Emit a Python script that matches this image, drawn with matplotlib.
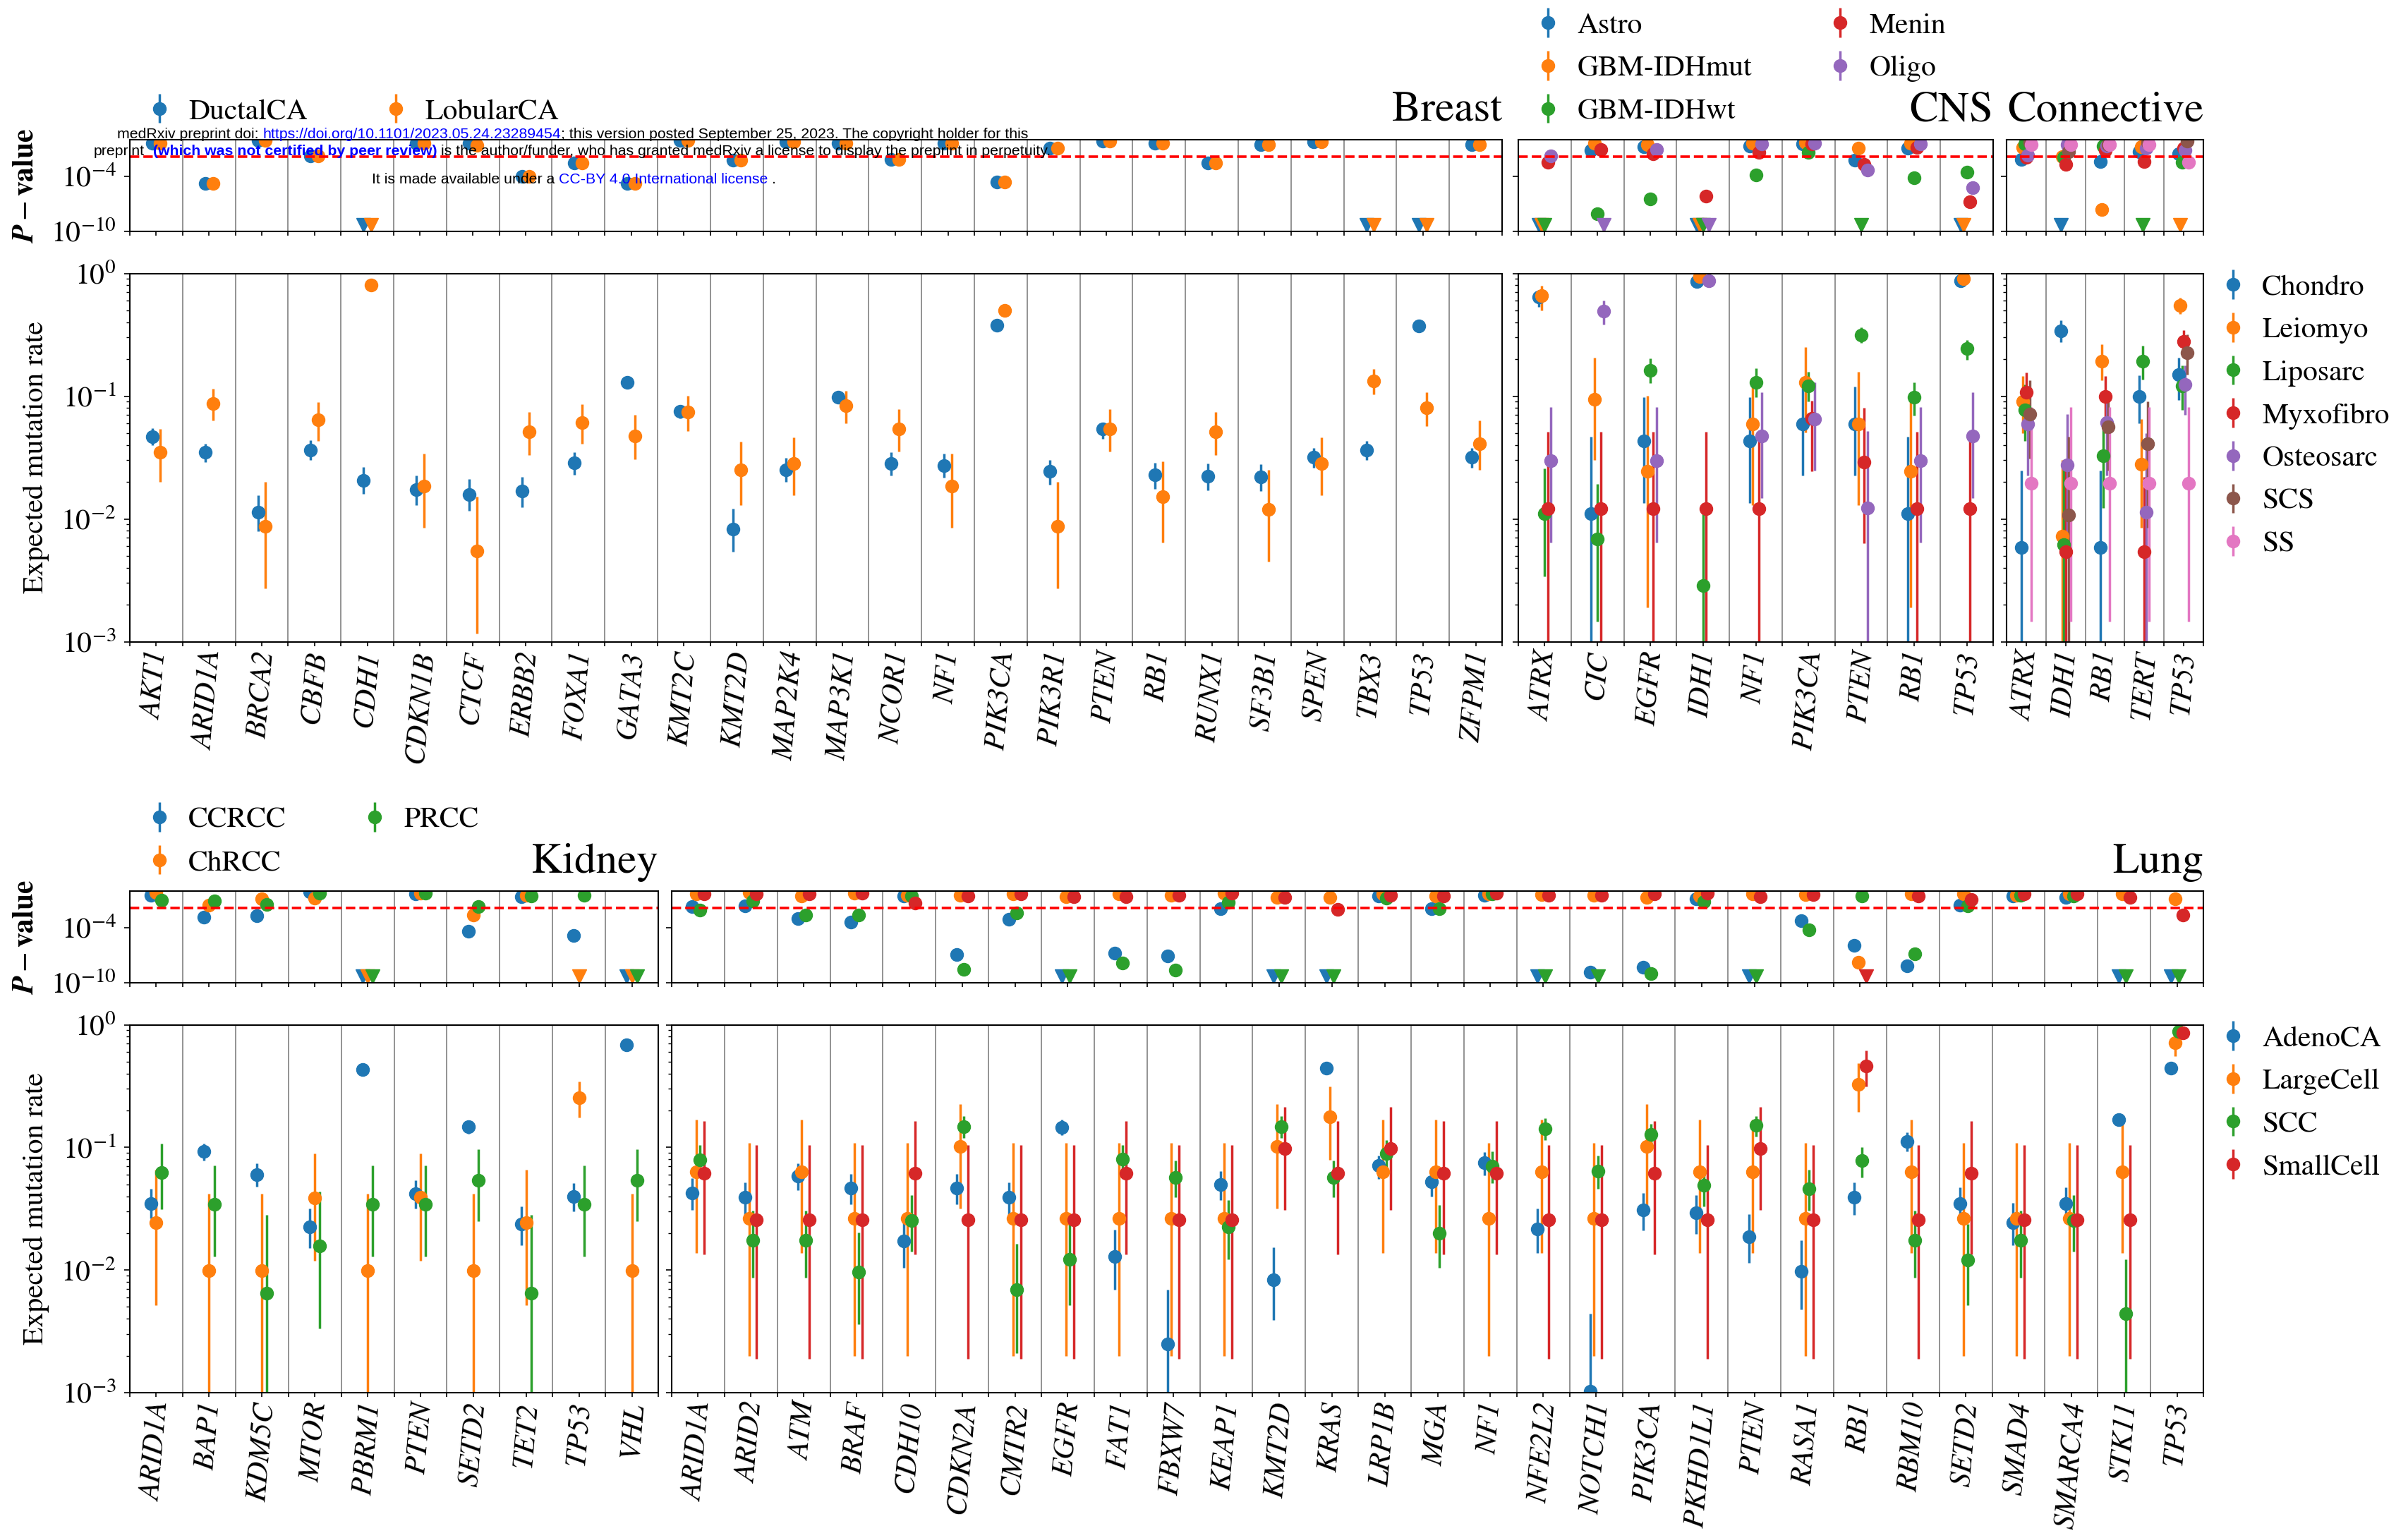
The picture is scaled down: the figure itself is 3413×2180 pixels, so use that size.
import numpy as np
import matplotlib.pyplot as plt
from matplotlib.text import Annotation
from matplotlib.ticker import NullLocator
from matplotlib.mathtext import MathTextParser

plt.rcParams['font.family'] = 'STIXGeneral'
plt.rcParams['mathtext.fontset'] = 'stix'

LOW = -12            # log10 p below the plotted range -> drawn as a triangle
P_THRESHOLD = 0.0135
P_FLOOR = 10 ** -9.3

# ---------------- Breast ----------------
breast_genes = ['AKT1', 'ARID1A', 'BRCA2', 'CBFB', 'CDH1', 'CDKN1B', 'CTCF', 'ERBB2', 'FOXA1',
                'GATA3', 'KMT2C', 'KMT2D', 'MAP2K4', 'MAP3K1', 'NCOR1', 'NF1', 'PIK3CA', 'PIK3R1',
                'PTEN', 'RB1', 'RUNX1', 'SF3B1', 'SPEN', 'TBX3', 'TP53', 'ZFPM1']
breast_types = ['DuctalCA', 'LobularCA']
breast_rate = [
    [0.047, 0.035, 0.0113, 0.0365, 0.0207, 0.0173, 0.0158, 0.0168, 0.0286, 0.13, 0.075, 0.0083, 0.0252,
     0.098, 0.0282, 0.0272, 0.378, 0.0244, 0.0537, 0.0228, 0.0222, 0.0219, 0.0317, 0.0362, 0.375, 0.0317],
    [0.035, 0.087, 0.0087, 0.064, 0.80, 0.0185, 0.0055, 0.051, 0.061, 0.0475, 0.074, 0.025, 0.0282,
     0.084, 0.054, 0.0185, 0.50, 0.0087, 0.054, 0.0152, 0.051, 0.012, 0.0282, 0.133, 0.080, 0.041]]
breast_lo = [
    [0.040, 0.029, 0.0079, 0.030, 0.016, 0.0129, 0.0117, 0.0125, 0.023, 0.125, 0.066, 0.0054, 0.020,
     0.094, 0.0226, 0.0216, 0.37, 0.019, 0.045, 0.0176, 0.017, 0.0168, 0.026, 0.030, 0.368, 0.026],
    [0.020, 0.063, 0.0027, 0.043, 0.78, 0.0085, 0.00117, 0.033, 0.041, 0.0305, 0.052, 0.013, 0.0155,
     0.060, 0.0356, 0.0085, 0.49, 0.0027, 0.0356, 0.0064, 0.033, 0.0045, 0.0155, 0.103, 0.057, 0.025]]
breast_hi = [
    [0.055, 0.041, 0.0156, 0.044, 0.0266, 0.0225, 0.021, 0.0219, 0.035, 0.136, 0.082, 0.0121, 0.0315,
     0.103, 0.0347, 0.0338, 0.386, 0.0302, 0.061, 0.0286, 0.0282, 0.0278, 0.038, 0.0433, 0.382, 0.038],
    [0.054, 0.115, 0.020, 0.089, 0.82, 0.034, 0.0152, 0.074, 0.086, 0.070, 0.101, 0.0425, 0.046,
     0.111, 0.078, 0.034, 0.51, 0.020, 0.078, 0.0294, 0.074, 0.025, 0.046, 0.166, 0.108, 0.063]]
breast_logp = [
    [-0.4, -4.8, -0.1, -1.75, LOW, -0.4, -0.4, -3.97, -2.56, -4.74, -0.1, -2.2, -0.26, -0.38, -2.13,
     -0.38, -4.6, -0.95, -0.13, -0.38, -2.56, -0.5, -0.26, LOW, LOW, -0.5],
    [-0.4, -4.8, -0.1, -1.75, LOW, -0.4, -0.64, -3.97, -2.56, -4.74, -0.1, -2.2, -0.26, -0.38, -2.13,
     -0.38, -4.6, -0.95, -0.13, -0.38, -2.56, -0.5, -0.26, LOW, LOW, -0.5]]

# ---------------- CNS ----------------
cns_genes = ['ATRX', 'CIC', 'EGFR', 'IDH1', 'NF1', 'PIK3CA', 'PTEN', 'RB1', 'TP53']
cns_types = ['Astro', 'GBM-IDHmut', 'GBM-IDHwt', 'Menin', 'Oligo']
cns_rate = [
    [0.64, 0.0111, 0.043, 0.86, 0.043, 0.059, 0.059, 0.0111, 0.87],
    [0.66, 0.094, 0.0244, 0.94, 0.059, 0.13, 0.059, 0.0244, 0.90],
    [0.011, 0.0069, 0.163, 0.00286, 0.13, 0.121, 0.315, 0.0975, 0.243],
    [0.0121, 0.0121, 0.0121, 0.0121, 0.0121, 0.066, 0.029, 0.0121, 0.0121],
    [0.0298, 0.49, 0.0298, 0.87, 0.0475, 0.065, 0.0123, 0.0298, 0.0475]]
cns_lo = [
    [0.53, 0.0001, 0.0134, 0.84, 0.0134, 0.0226, 0.0226, 0.0001, 0.85],
    [0.50, 0.030, 0.0019, 0.92, 0.013, 0.0505, 0.0129, 0.0019, 0.88],
    [0.0034, 0.00146, 0.128, 0.0001, 0.098, 0.091, 0.27, 0.0696, 0.198],
    [0.0001, 0.0001, 0.0001, 0.0001, 0.0001, 0.0244, 0.0063, 0.0001, 0.0001],
    [0.0064, 0.382, 0.0064, 0.85, 0.0148, 0.0249, 0.0001, 0.0064, 0.0148]]
cns_hi = [
    [0.73, 0.047, 0.0975, 0.88, 0.0975, 0.119, 0.119, 0.047, 0.89],
    [0.79, 0.206, 0.101, 0.96, 0.119, 0.252, 0.158, 0.101, 0.92],
    [0.0256, 0.0193, 0.204, 0.0115, 0.168, 0.158, 0.363, 0.13, 0.287],
    [0.051, 0.051, 0.051, 0.051, 0.051, 0.092, 0.080, 0.051, 0.051],
    [0.0817, 0.597, 0.0817, 0.89, 0.108, 0.13, 0.052, 0.0817, 0.108]]
cns_logp = [
    [LOW, -1.18, -0.79, LOW, -0.72, -0.46, -2.2, -0.92, LOW],
    [LOW, -0.41, -0.54, LOW, -0.36, -0.28, -0.92, -0.36, LOW],
    [LOW, -8.05, -6.44, LOW, -3.87, -1.41, LOW, -4.13, -3.54],
    [-2.46, -1.05, -1.56, -6.13, -1.41, -0.46, -2.72, -0.87, -6.74],
    [-1.74, LOW, -1.05, LOW, -0.46, -0.41, -3.28, -0.46, -5.2]]

# ---------------- Connective ----------------
conn_genes = ['ATRX', 'IDH1', 'RB1', 'TERT', 'TP53']
conn_types = ['Chondro', 'Leiomyo', 'Liposarc', 'Myxofibro', 'Osteosarc', 'SCS', 'SS']
conn_rate = [
    [0.00588, 0.339, 0.00588, 0.099, 0.15],
    [0.091, 0.0072, 0.193, 0.0279, 0.545],
    [0.0776, 0.0062, 0.0328, 0.193, 0.121],
    [0.107, 0.0054, 0.10, 0.0054, 0.279],
    [0.059, 0.0275, 0.0606, 0.0113, 0.124],
    [0.071, 0.0107, 0.056, 0.041, 0.225],
    [0.0196, 0.0196, 0.0196, 0.0196, 0.0196]]
conn_lo = [
    [0.0001, 0.277, 0.0001, 0.0597, 0.0925],
    [0.050, 0.0001, 0.134, 0.0085, 0.468],
    [0.043, 0.0001, 0.0122, 0.137, 0.077],
    [0.071, 0.0001, 0.050, 0.0001, 0.206],
    [0.0226, 0.0054, 0.0226, 0.0001, 0.070],
    [0.031, 0.0001, 0.0246, 0.0085, 0.150],
    [0.00146, 0.00146, 0.00146, 0.00146, 0.00146]]
conn_hi = [
    [0.0249, 0.415, 0.0249, 0.148, 0.206],
    [0.145, 0.030, 0.263, 0.065, 0.63],
    [0.124, 0.027, 0.066, 0.256, 0.177],
    [0.156, 0.027, 0.146, 0.022, 0.345],
    [0.103, 0.071, 0.103, 0.050, 0.177],
    [0.134, 0.047, 0.105, 0.091, 0.32],
    [0.081, 0.081, 0.081, 0.081, 0.081]]
conn_logp = [
    [-2.15, LOW, -2.41, -1.31, -1.56],
    [-0.87, -1.82, -7.59, -0.79, LOW],
    [-0.46, -1.95, -0.67, LOW, -2.46],
    [-1.95, -2.72, -1.18, -2.41, -0.92],
    [-1.7, -0.54, -0.7, -0.9, -1.18],
    [-0.3, -1.31, -0.5, -0.3, -0.15],
    [-0.51, -0.54, -0.54, -0.54, -2.46]]

# ---------------- Kidney ----------------
kidney_genes = ['ARID1A', 'BAP1', 'KDM5C', 'MTOR', 'PBRM1', 'PTEN', 'SETD2', 'TET2', 'TP53', 'VHL']
kidney_types = ['CCRCC', 'ChRCC', 'PRCC']
kidney_rate = [
    [0.0349, 0.0926, 0.06, 0.0226, 0.432, 0.0418, 0.148, 0.0236, 0.0397, 0.685],
    [0.0242, 0.0099, 0.0099, 0.0385, 0.0099, 0.039, 0.0099, 0.0242, 0.253, 0.0099],
    [0.0622, 0.0343, 0.0065, 0.0157, 0.0343, 0.0343, 0.0537, 0.0065, 0.0343, 0.0537]]
kidney_lo = [
    [0.0263, 0.078, 0.048, 0.0152, 0.425, 0.0316, 0.13, 0.0159, 0.030, 0.68],
    [0.0052, 0.0001, 0.0001, 0.0119, 0.0001, 0.0119, 0.0001, 0.0052, 0.176, 0.0001],
    [0.0315, 0.0129, 0.0001, 0.00336, 0.0129, 0.0129, 0.025, 0.0001, 0.0129, 0.025]]
kidney_hi = [
    [0.0457, 0.107, 0.0743, 0.0316, 0.44, 0.054, 0.163, 0.0331, 0.051, 0.69],
    [0.066, 0.042, 0.042, 0.0886, 0.042, 0.0886, 0.042, 0.066, 0.345, 0.042],
    [0.107, 0.071, 0.028, 0.0437, 0.071, 0.071, 0.0963, 0.028, 0.071, 0.0963]]
kidney_logp = [
    [-0.44, -2.82, -2.67, -0.1, LOW, -0.31, -4.36, -0.62, -4.85, LOW],
    [-0.18, -1.54, -0.82, -0.77, LOW, -0.23, -2.62, -0.44, LOW, LOW],
    [-1.03, -1.08, -1.46, -0.26, LOW, -0.23, -1.72, -0.56, -0.44, LOW]]

# ---------------- Lung ----------------
lung_genes = ['ARID1A', 'ARID2', 'ATM', 'BRAF', 'CDH10', 'CDKN2A', 'CMTR2', 'EGFR', 'FAT1', 'FBXW7',
              'KEAP1', 'KMT2D', 'KRAS', 'LRP1B', 'MGA', 'NF1', 'NFE2L2', 'NOTCH1', 'PIK3CA', 'PKHD1L1',
              'PTEN', 'RASA1', 'RB1', 'RBM10', 'SETD2', 'SMAD4', 'SMARCA4', 'STK11', 'TP53']
lung_types = ['AdenoCA', 'LargeCell', 'SCC', 'SmallCell']
lung_rate = [
    [0.0423, 0.039, 0.0583, 0.0466, 0.0173, 0.0466, 0.039, 0.146, 0.0129, 0.00249, 0.0497, 0.00836,
     0.44, 0.0716, 0.0523, 0.0754, 0.0216, 0.00103, 0.0307, 0.0292, 0.0186, 0.0098, 0.039, 0.112,
     0.0349, 0.0245, 0.0349, 0.168, 0.44],
    [0.0634, 0.0265, 0.0634, 0.0265, 0.0265, 0.102, 0.0265, 0.0265, 0.0265, 0.0265, 0.0265, 0.102,
     0.177, 0.0634, 0.0634, 0.0265, 0.0634, 0.0265, 0.102, 0.0634, 0.0634, 0.0265, 0.327, 0.0634,
     0.0265, 0.0265, 0.0265, 0.0634, 0.711],
    [0.0794, 0.0175, 0.0175, 0.0096, 0.0253, 0.148, 0.0069, 0.0123, 0.0804, 0.0565, 0.0226, 0.148,
     0.0565, 0.0897, 0.02, 0.0707, 0.142, 0.0643, 0.128, 0.0488, 0.151, 0.046, 0.0778, 0.0175,
     0.0121, 0.0175, 0.0253, 0.0044, 0.88],
    [0.0614, 0.0257, 0.0257, 0.0257, 0.0614, 0.0257, 0.0257, 0.0257, 0.0614, 0.0257, 0.0257, 0.0975,
     0.0614, 0.0975, 0.0614, 0.0614, 0.0257, 0.0257, 0.0614, 0.0257, 0.0975, 0.0257, 0.463, 0.0257,
     0.0614, 0.0257, 0.0257, 0.0257, 0.863]]
lung_lo = [
    [0.031, 0.028, 0.045, 0.0345, 0.0104, 0.0345, 0.028, 0.126, 0.0069, 0.0001, 0.037, 0.00393,
     0.43, 0.0555, 0.0398, 0.0594, 0.0137, 0.0001, 0.021, 0.0196, 0.0114, 0.0048, 0.028, 0.093,
     0.024, 0.0159, 0.024, 0.160, 0.43],
    [0.0138, 0.002, 0.0138, 0.002, 0.002, 0.0316, 0.002, 0.002, 0.002, 0.002, 0.002, 0.0316,
     0.079, 0.0138, 0.0138, 0.002, 0.0138, 0.002, 0.0316, 0.0138, 0.0138, 0.002, 0.195, 0.0138,
     0.002, 0.002, 0.002, 0.0138, 0.551],
    [0.0605, 0.0087, 0.0087, 0.0036, 0.0142, 0.12, 0.0021, 0.0052, 0.0605, 0.039, 0.0123, 0.12,
     0.039, 0.0685, 0.0104, 0.0508, 0.114, 0.0458, 0.104, 0.0329, 0.122, 0.0304, 0.0565, 0.0087,
     0.0052, 0.0087, 0.0142, 0.0001, 0.86],
    [0.0134, 0.0019, 0.0019, 0.0019, 0.0134, 0.0019, 0.0019, 0.0019, 0.0134, 0.0019, 0.0019, 0.031,
     0.0134, 0.031, 0.0134, 0.0134, 0.0019, 0.0019, 0.0134, 0.0019, 0.031, 0.0019, 0.313, 0.0019,
     0.0134, 0.0019, 0.0019, 0.0019, 0.83]]
lung_hi = [
    [0.056, 0.052, 0.0743, 0.0611, 0.025, 0.0611, 0.052, 0.168, 0.0213, 0.0069, 0.064, 0.0154,
     0.45, 0.086, 0.067, 0.0916, 0.0316, 0.0044, 0.0423, 0.0406, 0.0284, 0.0175, 0.052, 0.132,
     0.047, 0.0353, 0.047, 0.176, 0.45],
    [0.168, 0.109, 0.168, 0.109, 0.109, 0.224, 0.109, 0.109, 0.109, 0.109, 0.109, 0.224,
     0.315, 0.168, 0.168, 0.109, 0.168, 0.109, 0.224, 0.168, 0.168, 0.109, 0.484, 0.168,
     0.109, 0.109, 0.109, 0.168, 0.863],
    [0.104, 0.0303, 0.0303, 0.0201, 0.0406, 0.18, 0.0163, 0.0238, 0.104, 0.078, 0.0372, 0.18,
     0.078, 0.114, 0.034, 0.0927, 0.174, 0.0857, 0.156, 0.066, 0.181, 0.0655, 0.10, 0.0303,
     0.0238, 0.0303, 0.0406, 0.0123, 0.90],
    [0.163, 0.104, 0.104, 0.104, 0.163, 0.104, 0.104, 0.104, 0.163, 0.104, 0.104, 0.215,
     0.163, 0.215, 0.163, 0.163, 0.104, 0.104, 0.163, 0.104, 0.215, 0.104, 0.614, 0.104,
     0.163, 0.104, 0.104, 0.104, 0.90]]
lung_logp = [
    [-1.72, -1.59, -3.0, -3.38, -0.56, -6.92, -3.08, LOW, -6.77, -7.1, -1.9, LOW, LOW, -0.56, -1.9,
     -0.44, LOW, -8.85, -8.3, -0.87, LOW, -3.26, -5.9, -8.13, -1.54, -0.56, -0.69, LOW, LOW],
    [-0.31, -0.18, -0.56, -0.26, -0.44, -0.44, -0.31, -0.62, -0.31, -0.44, -0.23, -0.69, -0.69, -0.31,
     -0.56, -0.31, -0.36, -0.44, -0.69, -0.56, -0.31, -0.36, -7.79, -0.31, -0.31, -0.44, -0.31, -0.31, -0.82],
    [-2.1, -1.08, -2.62, -2.62, -0.51, -8.5, -2.36, LOW, -7.82, -8.64, -1.2, LOW, LOW, -0.77, -1.9,
     -0.31, LOW, LOW, -8.97, -1.13, LOW, -4.23, -0.51, -6.85, -1.59, -0.44, -0.56, LOW, LOW],
    [-0.31, -0.31, -0.31, -0.26, -1.33, -0.51, -0.31, -0.62, -0.62, -0.44, -0.23, -0.69, -1.97, -0.44,
     -0.51, -0.26, -0.44, -0.44, -0.31, -0.26, -0.62, -0.36, LOW, -0.56, -0.95, -0.31, -0.31, -0.69, -2.62]]


W, H = 3413, 2180
fig = plt.figure(figsize=(W / 100, H / 100), dpi=100)


def add_ax(x0, x1, y0, y1):
    # pixel box -> figure fraction
    return fig.add_axes([x0 / W, 1 - y1 / H, (x1 - x0) / W, (y1 - y0) / H])


def mathtext_ok(s):
    try:
        MathTextParser('path').parse(s)
        return True
    except Exception:
        return False


P_LABEL = r'$\boldsymbol{P} - \mathbf{value}$'
if not mathtext_ok(P_LABEL):
    P_LABEL = r'$\mathbf{P} - \mathbf{value}$'


def style_x(ax, n, genes=None):
    ax.set_xlim(-0.5, n - 0.5)
    ax.set_xticks(np.arange(n))
    ax.set_xticks(np.arange(n + 1) - 0.5, minor=True)
    ax.grid(True, which='minor', axis='x', color='gray', lw=1.2)
    ax.set_axisbelow(True)
    if genes is not None:
        ax.set_xticklabels(genes, rotation=85, fontsize=30, style='italic')
    else:
        ax.set_xticklabels([])
    ax.tick_params(axis='x', which='both', length=4.5, width=1.2, pad=4)
    ax.tick_params(axis='y', which='major', length=6, width=1.2, labelsize=30, pad=8)
    ax.tick_params(axis='y', which='minor', length=3.5, width=1.0)
    for s in ax.spines.values():
        s.set_linewidth(1.5)


def draw_group(ax_p, ax_r, genes, types, rate, lo, hi, logp, first=False):
    n = len(types)
    x = np.arange(len(genes))
    step = 0.29 / n
    handles = []
    for i, name in enumerate(types):
        off = (i - (n - 1) / 2) * step
        color = 'C%d' % i
        r = np.array(rate[i])
        err = [r - np.array(lo[i]), np.array(hi[i]) - r]
        h = ax_r.errorbar(x + off, r, yerr=err, fmt='o', color=color, ms=13,
                          elinewidth=2.5, capsize=0, label=name)
        handles.append(h)
        p = 10.0 ** np.array(logp[i], dtype=float)
        below = p < P_FLOOR
        ax_p.plot((x + off)[~below], p[~below], 'o', color=color, ms=13)
        ax_p.plot((x + off)[below], np.full(below.sum(), P_FLOOR), 'v', color=color, ms=14)

    ax_p.set_yscale('log')
    ax_p.set_ylim(1e-10, 1)
    ax_p.set_yticks([1e-10, 1e-4])
    ax_p.yaxis.set_minor_locator(NullLocator())
    ax_p.axhline(P_THRESHOLD, color='red', ls='--', lw=2.6)
    style_x(ax_p, len(genes))

    ax_r.set_yscale('log')
    ax_r.set_ylim(1e-3, 1)
    style_x(ax_r, len(genes), genes)

    if first:
        ax_p.set_ylabel(P_LABEL, fontsize=30, labelpad=12)
        ax_r.set_ylabel('Expected mutation rate', fontsize=30, labelpad=12)
    else:
        ax_p.tick_params(labelleft=False)
        ax_r.tick_params(labelleft=False)
    return handles


LEG = dict(frameon=False, fontsize=30, handlelength=1.0, handletextpad=0.5,
           columnspacing=2.5, borderaxespad=0.1, labelspacing=0.54)

# top row
bp, br = add_ax(184, 2129, 198, 328), add_ax(184, 2129, 387.5, 909.5)
cp, cr = add_ax(2152, 2825, 198, 328), add_ax(2152, 2825, 387.5, 909.5)
np_, nr = add_ax(2844, 3123, 198, 328), add_ax(2844, 3123, 387.5, 909.5)
# bottom row
kp, kr = add_ax(184, 933, 1263, 1393), add_ax(184, 933, 1452.5, 1974)
lp, lr = add_ax(952, 3123, 1263, 1393), add_ax(952, 3123, 1452.5, 1974)

h = draw_group(bp, br, breast_genes, breast_types, breast_rate, breast_lo, breast_hi, breast_logp, first=True)
bp.legend(h, breast_types, loc='lower left', bbox_to_anchor=(0, 1), ncol=2, **LEG)
bp.set_title('Breast', loc='right', fontsize=44, pad=19)

h = draw_group(cp, cr, cns_genes, cns_types, cns_rate, cns_lo, cns_hi, cns_logp)
cp.legend(h, cns_types, loc='lower left', bbox_to_anchor=(0, 1), ncol=2, **LEG)
cp.set_title('CNS', loc='right', fontsize=44, pad=19)

h = draw_group(np_, nr, conn_genes, conn_types, conn_rate, conn_lo, conn_hi, conn_logp)
nr.legend(h, conn_types, loc='upper left', bbox_to_anchor=(1, 1.038), **LEG)
np_.set_title('Connective', loc='right', fontsize=44, pad=19)

h = draw_group(kp, kr, kidney_genes, kidney_types, kidney_rate, kidney_lo, kidney_hi, kidney_logp, first=True)
kp.legend(h, kidney_types, loc='lower left', bbox_to_anchor=(0, 1), ncol=2, **LEG)
kp.set_title('Kidney', loc='right', fontsize=44, pad=19)

h = draw_group(lp, lr, lung_genes, lung_types, lung_rate, lung_lo, lung_hi, lung_logp)
lr.legend(h, lung_types, loc='upper left', bbox_to_anchor=(1, 1.038), **LEG)
lp.set_title('Lung', loc='right', fontsize=44, pad=19)

# medRxiv watermark, drawn piece by piece so the colours can change mid-line
WM_SIZE = 15.3
BLUE = '#0000ff'


def watermark(x_px, y_px, pieces):
    prev = None
    for txt, color, bold, gap in pieces:
        kw = dict(color=color, fontsize=WM_SIZE, family='Liberation Sans',
                  fontweight='bold' if bold else 'normal', ha='left')
        if prev is None:
            prev = fig.text(x_px / W, 1 - y_px / H, txt, va='center', **kw)
        else:
            ann = Annotation(txt, xy=(1, 0), xycoords=prev, xytext=(gap * 0.278 * WM_SIZE, 0),
                             textcoords='offset points', va='bottom', **kw)
            fig.add_artist(ann)
            prev = ann


watermark(166, 191, [('medRxiv preprint doi:', 'k', False, 0),
                     ('https://doi.org/10.1101/2023.05.24.23289454', BLUE, False, 1),
                     ('; this version posted September 25, 2023. The copyright holder for this', 'k', False, 0)])
watermark(133, 215, [('preprint', 'k', False, 0),
                     ('(which was not certified by peer review)', BLUE, True, 2),
                     ('is the author/funder, who has granted medRxiv a license to display the preprint in perpetuity.',
                      'k', False, 1)])
watermark(527, 255, [('It is made available under a', 'k', False, 0),
                     ('CC-BY 4.0 International license', BLUE, False, 1),
                     ('.', 'k', False, 1)])

fig.savefig('out.png', dpi=100)
